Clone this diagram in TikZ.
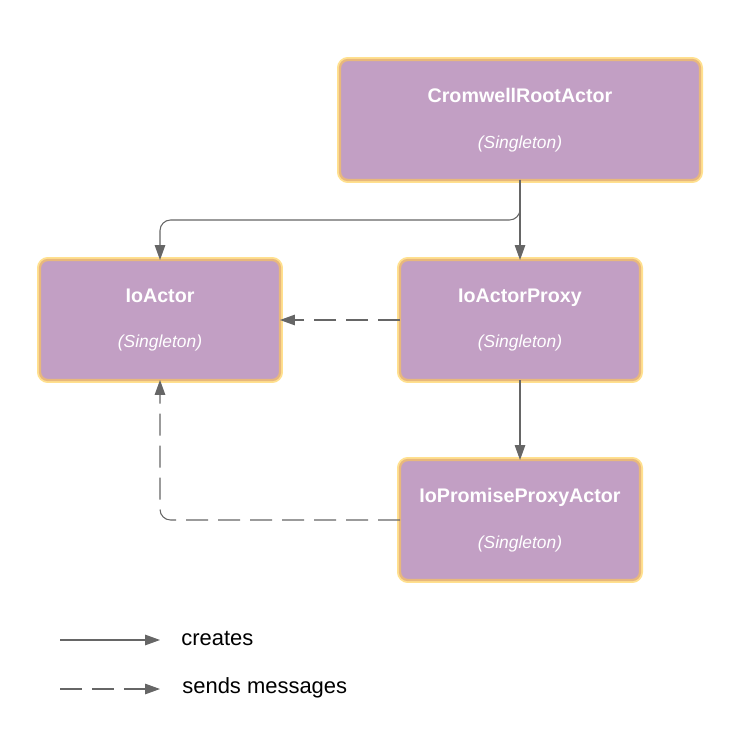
\documentclass[tikz,border=0pt]{standalone}
\usepackage{fontspec}
\setmainfont{Liberation Sans}
\usepackage{tikz}
\usetikzlibrary{arrows.meta}

\definecolor{actorfill}{HTML}{C29FC4}
\definecolor{actorrim}{HTML}{FFE08F}
\definecolor{actorline}{HTML}{E8B87C}
\definecolor{linkgray}{HTML}{666666}

\tikzset{
  actor/.style={rectangle, rounded corners=4.5pt, fill=actorfill,
    draw=actorline, line width=1.3pt, preaction={draw=actorrim, line width=3.4pt},
    minimum height=2.4cm, inner sep=0pt, outer sep=0pt, align=center,
    text=white, font=\fontsize{9.9}{12}\selectfont},
  creates/.style={draw=linkgray, line width=0.6pt, rounded corners=6pt,
    -{Triangle[length=8.5pt,width=6pt]}},
  sends/.style={creates, dash pattern=on 12.5pt off 5.7pt}
}

\begin{document}
\begin{tikzpicture}

 \useasboundingbox (0,0) rectangle (14.72,-14.76);

 \node[actor, minimum width=7.2cm] (root) at (10.4,-2.4)
   {{\fontsize{11.2}{13}\selectfont\bfseries CromwellRootActor}\\[14pt]\itshape (Singleton)};
 \node[actor, minimum width=4.8cm] (io) at (3.2,-6.4)
   {{\fontsize{11.2}{13}\selectfont\bfseries IoActor}\\[14pt]\itshape (Singleton)};
 \node[actor, minimum width=4.8cm] (proxy) at (10.4,-6.4)
   {{\fontsize{11.2}{13}\selectfont\bfseries IoActorProxy}\\[14pt]\itshape (Singleton)};
 \node[actor, minimum width=4.8cm] (promise) at (10.4,-10.4)
   {{\fontsize{11.2}{13}\selectfont\bfseries IoPromiseProxyActor}\\[14pt]\itshape (Singleton)};

 \draw[creates] (root.south) -- ++(0,-0.8) -| (io.north);
 \draw[creates] (root.south) -- (proxy.north);
 \draw[creates] (proxy.south) -- (promise.north);

 \draw[sends] (proxy.west) -- (io.east);
 \draw[sends] (promise.west) -| (io.south);

 % legend
 \coordinate (createsA) at (1.2,-12.8);
 \coordinate (createsB) at (3.2,-12.8);
 \coordinate (sendsA) at (1.2,-13.78);
 \coordinate (sendsB) at (3.2,-13.78);

 \draw[creates] (createsA) -- (createsB);
 \draw[sends] (sendsA) -- (sendsB);

 \node[anchor=west, inner sep=0pt, font=\fontsize{12.5}{15}\selectfont] (createsT) at (3.62,-12.76) {creates};
 \node[anchor=west, inner sep=0pt, font=\fontsize{12.5}{15}\selectfont] (sendsT) at (3.64,-13.76) {sends messages};

\end{tikzpicture}
\end{document}
